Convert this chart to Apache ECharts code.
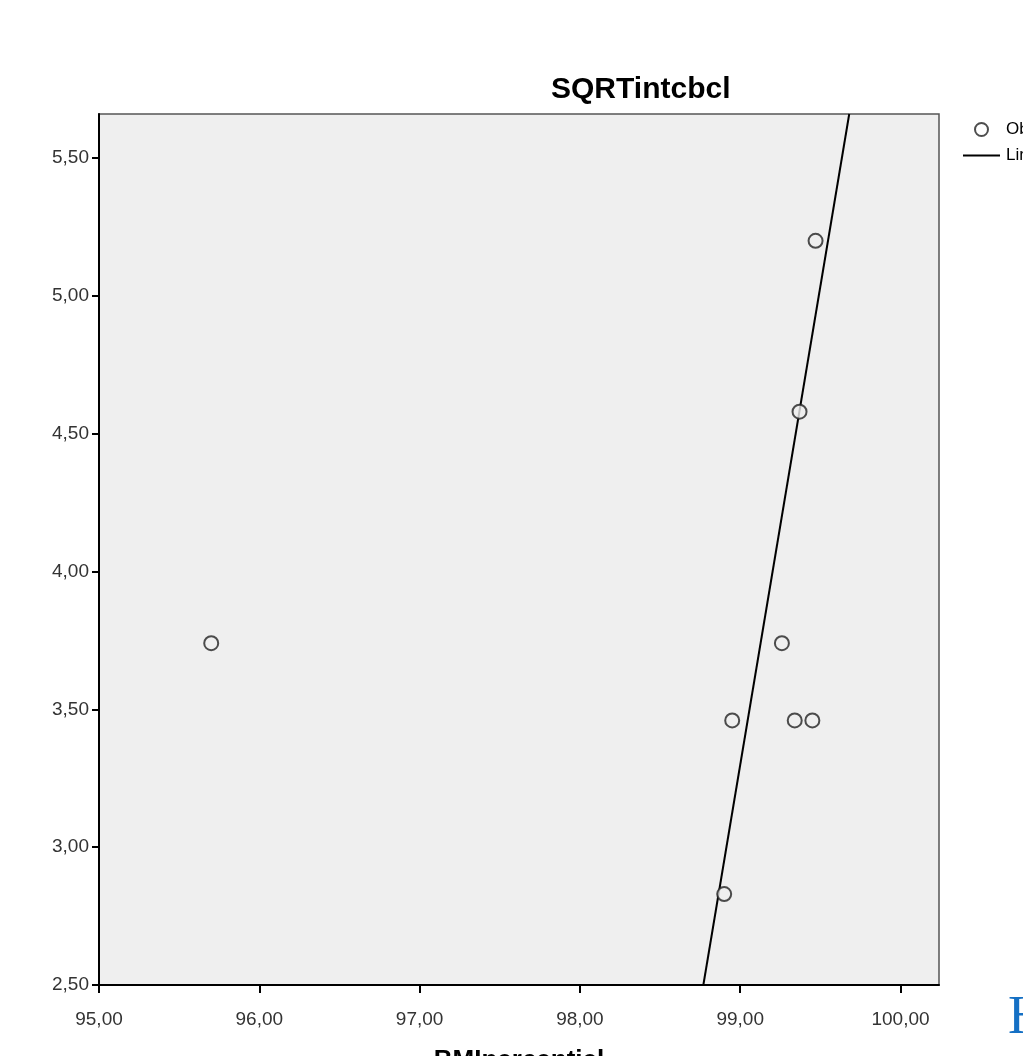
<!DOCTYPE html>
<html>
<head>
<meta charset="utf-8">
<script src="https://cdn.jsdelivr.net/npm/echarts@6/dist/echarts.min.js"></script>
<style>
    html, body, #main {
        width: 100%;
        height: 100%;
        margin: 0;
        background: #fff;
        overflow: hidden;
    }
</style>
</head>
<body>
<div id="main"></div>
<script>
    // observed points
    var obsX = [95.70, 98.95, 99.34, 99.45, 99.26, 99.37, 99.47, 98.90];
    var obsY = [3.74, 3.46, 3.46, 3.46, 3.74, 4.58, 5.20, 2.83];
    // linear fit line (endpoints at the plot edges)
    var fitX = [98.77, 99.68];
    var fitY = [2.50, 5.66];
    // tick values
    var xTicks = [95, 96, 97, 98, 99, 100];
    var yTicks = [2.5, 3.0, 3.5, 4.0, 4.5, 5.0, 5.5];

    function comma(v) {
        return Number(v).toFixed(2).replace('.', ',');
    }

    var chart = echarts.init(document.getElementById('main'));

    var obsData = obsX.map(function (x, i) { return [x, obsY[i]]; });
    var fitData = fitX.map(function (x, i) { return [x, fitY[i]]; });

    chart.setOption({
        animation: false,
        textStyle: { fontFamily: 'Liberation Sans, Arial, sans-serif' },
        title: {
            text: 'SQRTintcbcl',
            left: 546,
            top: 70,
            textStyle: { fontSize: 30, fontWeight: 'bold', color: '#000' }
        },
        legend: {
            orient: 'vertical',
            left: 958,
            top: 116,
            itemWidth: 37,
            itemHeight: 13,
            itemGap: 9,
            textStyle: { fontSize: 17, color: '#000', padding: [0, 0, 0, 1] },
            data: [
                { name: 'Observed', icon: 'circle', itemStyle: { color: '#fff', borderColor: '#222', borderWidth: 2 } },
                { name: 'Linear', icon: 'path://M0,0H37V2H0Z', itemStyle: { color: '#000' } }
            ]
        },
        grid: {
            left: 99,
            top: 114,
            width: 840,
            height: 871,
            outerBoundsMode: 'none',
            containLabel: false,
            show: true,
            backgroundColor: '#efefef',
            borderColor: '#555',
            borderWidth: 1.5
        },
        xAxis: {
            type: 'value',
            min: 95,
            max: 100.24,
            interval: 1,
            name: 'BMIpercentiel',
            nameLocation: 'middle',
            nameGap: 63,
            nameTextStyle: { fontSize: 26, fontWeight: 'bold', color: '#000', verticalAlign: 'top' },
            splitLine: { show: false },
            axisLine: { lineStyle: { color: '#000', width: 2 } },
            axisTick: { length: 8, lineStyle: { color: '#000', width: 2 }, customValues: xTicks },
            axisLabel: {
                customValues: xTicks,
                formatter: comma,
                fontSize: 19,
                color: '#333',
                margin: 25
            }
        },
        yAxis: {
            type: 'value',
            min: 2.5,
            max: 5.66,
            interval: 0.5,
            splitLine: { show: false },
            axisLine: { lineStyle: { color: '#000', width: 2 } },
            axisTick: { length: 7, lineStyle: { color: '#000', width: 2 }, customValues: yTicks },
            axisLabel: {
                customValues: yTicks,
                formatter: comma,
                fontSize: 19,
                color: '#333',
                margin: 10
            }
        },
        series: [
            {
                name: 'Observed',
                type: 'scatter',
                symbol: 'circle',
                symbolSize: 14,
                itemStyle: { color: '#efefef', borderColor: '#222', borderWidth: 2 },
                data: obsData,
                z: 3
            },
            {
                name: 'Linear',
                type: 'line',
                symbol: 'none',
                lineStyle: { color: '#000', width: 2 },
                itemStyle: { color: '#000' },
                data: fitData,
                z: 2
            }
        ],
        graphic: [
            {
                type: 'text',
                left: 1008,
                top: 992,
                style: {
                    text: 'H',
                    fontFamily: 'Liberation Serif, serif',
                    fontSize: 54,
                    fill: '#1570c4'
                }
            }
        ]
    });
</script>
</body>
</html>
